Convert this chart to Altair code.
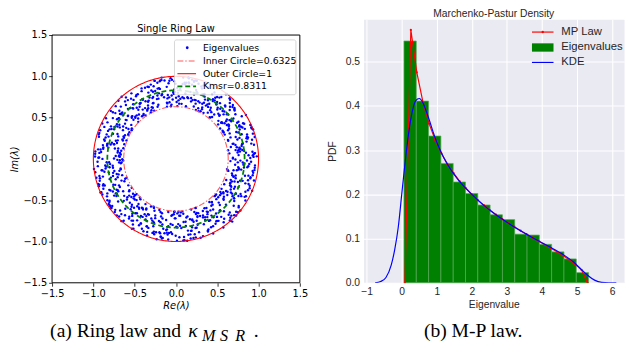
import altair as alt
import numpy as np
import pandas as pd

# ---------------- data: left panel (eigenvalues in the complex plane, polar form) ----------------
angle_deg = [
    0.3, 1.1, 1.8, 2.9, 3.5, 4.2, 5.3, 6.0, 6.6, 7.7, 8.4, 9.0, 10.1, 10.9, 11.5, 12.6, 13.2, 14.1, 14.9, 15.8,
    16.4, 17.5, 18.2, 18.9, 20.0, 20.6, 21.5, 22.4, 23.0, 24.1, 24.8, 25.4, 26.5, 27.3, 28.0, 28.9, 29.7, 30.6, 31.2, 32.1,
    33.0, 33.7, 34.6, 35.2, 36.3, 37.0, 37.8, 38.7, 39.3, 40.4, 41.1, 41.9, 42.6, 43.5, 44.4, 45.0, 46.1, 46.8, 47.5, 48.5,
    49.2, 50.1, 50.8, 51.7, 52.3, 53.4, 54.1, 54.9, 55.8, 56.4, 57.5, 58.2, 58.9, 59.9, 60.7, 61.4, 62.4, 63.0, 63.9, 64.8,
    65.5, 66.3, 67.2, 67.9, 68.8, 69.5, 70.4, 71.2, 72.0, 72.8, 73.7, 74.3, 75.3, 76.1, 76.8, 77.8, 78.5, 79.3, 80.2, 80.9,
    81.8, 82.5, 83.5, 84.2, 84.9, 85.9, 86.6, 87.5, 88.3, 89.0, 89.9, 90.8, 91.4, 92.4, 93.2, 93.9, 94.8, 95.6, 96.3, 97.3,
    98.0, 98.8, 99.7, 100.4, 101.3, 102.1, 102.9, 103.7, 104.6, 105.3, 106.2, 107.0, 107.7, 108.7, 109.4, 110.2, 111.1, 111.9, 112.6, 113.5,
    114.3, 115.1, 116.0, 116.7, 117.6, 118.4, 119.2, 120.1, 120.8, 121.7, 122.5, 123.2, 124.2, 124.9, 125.7, 126.6, 127.4, 128.1, 129.1, 129.8,
    130.6, 131.5, 132.2, 133.1, 133.9, 134.7, 135.5, 136.4, 137.1, 138.0, 138.8, 139.6, 140.5, 141.2, 142.1, 142.9, 143.6, 144.6, 145.3, 146.1,
    147.0, 147.8, 148.5, 149.5, 150.2, 151.0, 151.9, 152.7, 153.4, 154.4, 155.1, 155.9, 156.8, 157.6, 158.3, 159.3, 160.0, 160.8, 161.7, 162.5,
    163.2, 164.2, 164.9, 165.7, 166.6, 167.4, 168.1, 169.1, 169.8, 170.6, 171.5, 172.3, 173.0, 174.0, 174.7, 175.5, 176.4, 177.2, 177.9, 178.9,
    179.6, 180.4, 181.3, 182.1, 182.8, 183.8, 184.5, 185.3, 186.2, 187.0, 187.7, 188.7, 189.4, 190.2, 191.1, 191.9, 192.6, 193.6, 194.3, 195.1,
    196.0, 196.8, 197.5, 198.5, 199.2, 200.0, 200.9, 201.7, 202.4, 203.4, 204.1, 204.9, 205.8, 206.6, 207.3, 208.3, 209.0, 209.8, 210.7, 211.5,
    212.2, 213.2, 213.9, 214.7, 215.6, 216.4, 217.1, 218.1, 218.8, 219.6, 220.5, 221.3, 222.0, 223.0, 223.7, 224.5, 225.4, 226.2, 226.9, 227.9,
    228.6, 229.4, 230.3, 231.1, 231.8, 232.8, 233.5, 234.3, 235.2, 236.0, 236.7, 237.7, 238.4, 239.2, 240.1, 240.9, 241.6, 242.6, 243.3, 244.1,
    245.0, 245.8, 246.5, 247.5, 248.2, 249.0, 249.9, 250.7, 251.4, 252.4, 253.1, 253.9, 254.8, 255.6, 256.3, 257.3, 258.0, 258.8, 259.7, 260.5,
    261.2, 262.2, 262.9, 263.7, 264.6, 265.4, 266.1, 267.1, 267.8, 268.6, 269.5, 270.3, 271.0, 272.0, 272.7, 273.5, 274.4, 275.2, 275.9, 276.9,
    277.6, 278.4, 279.3, 280.1, 280.8, 281.8, 282.5, 283.3, 284.2, 285.0, 285.7, 286.7, 287.4, 288.2, 289.1, 289.9, 290.6, 291.6, 292.3, 293.1,
    294.0, 294.8, 295.5, 296.5, 297.2, 298.0, 298.9, 299.7, 300.4, 301.4, 302.1, 302.9, 303.8, 304.6, 305.3, 306.3, 307.0, 307.8, 308.7, 309.5,
    310.2, 311.2, 311.9, 312.7, 313.6, 314.4, 315.1, 316.1, 316.8, 317.6, 318.5, 319.3, 320.0, 321.0, 321.7, 322.5, 323.4, 324.2, 324.9, 325.9,
    326.6, 327.4, 328.3, 329.1, 329.8, 330.8, 331.5, 332.3, 333.2, 334.0, 334.7, 335.7, 336.4, 337.2, 338.1, 338.9, 339.6, 340.6, 341.3, 342.1,
    343.0, 343.8, 344.5, 345.5, 346.2, 347.0, 347.9, 348.7, 349.4, 350.4, 351.1, 351.9, 352.8, 353.6, 354.3, 355.3, 356.0, 356.8, 357.7, 358.5,
    0.7, 1.5, 2.5, 3.3, 4.0, 5.0, 5.9, 6.8, 7.6, 8.6, 9.5, 10.3, 11.2, 12.2, 13.0, 13.8, 14.7, 15.6, 16.5, 17.3,
    18.3, 19.1, 20.1, 20.9, 21.8, 22.7, 23.6, 24.5, 25.3, 26.3, 27.1, 28.0, 28.9, 29.9, 30.7, 31.5, 32.5, 33.3, 34.3, 35.1,
    36.0, 36.9, 37.8, 38.7, 39.5, 40.5, 41.3, 42.3, 43.1, 44.0, 44.9, 45.8, 46.7, 47.5, 48.5, 49.3, 50.3, 51.1, 52.0, 52.9,
    53.8, 54.7, 55.5, 56.5, 57.3, 58.3, 59.1, 60.0, 60.9, 61.8, 62.7, 63.5, 64.5, 65.3, 66.3, 67.1, 68.0, 68.9, 69.8, 70.7,
    71.5, 72.5, 73.3, 74.3, 75.1, 76.0, 76.9, 77.8, 78.7, 79.5, 80.5, 81.3, 82.3, 83.1, 84.0, 84.9, 85.8, 86.7, 87.5, 88.5,
    89.3, 90.3, 91.1, 92.0, 92.9, 93.8, 94.7, 95.5, 96.5, 97.3, 98.3, 99.1, 100.0, 100.9, 101.8, 102.7, 103.5, 104.5, 105.3, 106.3,
    107.1, 108.0, 108.9, 109.8, 110.7, 111.5, 112.5, 113.3, 114.3, 115.1, 116.0, 116.9, 117.8, 118.7, 119.5, 120.5, 121.3, 122.3, 123.1, 124.0,
    124.9, 125.8, 126.7, 127.5, 128.5, 129.3, 130.3, 131.1, 132.0, 132.9, 133.8, 134.7, 135.5, 136.5, 137.3, 138.3, 139.1, 140.0, 140.9, 141.8,
    142.7, 143.5, 144.5, 145.3, 146.3, 147.1, 148.0, 148.9, 149.8, 150.7, 151.5, 152.5, 153.3, 154.3, 155.1, 156.0, 156.9, 157.8, 158.7, 159.5,
    160.5, 161.3, 162.3, 163.1, 164.0, 164.9, 165.8, 166.7, 167.5, 168.5, 169.3, 170.3, 171.1, 172.0, 172.9, 173.8, 174.7, 175.5, 176.5, 177.3,
    178.3, 179.1, 180.0, 180.9, 181.8, 182.7, 183.5, 184.5, 185.3, 186.3, 187.1, 188.0, 188.9, 189.8, 190.7, 191.5, 192.5, 193.3, 194.3, 195.1,
    196.0, 196.9, 197.8, 198.7, 199.5, 200.5, 201.3, 202.3, 203.1, 204.0, 204.9, 205.8, 206.7, 207.5, 208.5, 209.3, 210.3, 211.1, 212.0, 212.9,
    213.8, 214.7, 215.5, 216.5, 217.3, 218.3, 219.1, 220.0, 220.9, 221.8, 222.7, 223.5, 224.5, 225.3, 226.3, 227.1, 228.0, 228.9, 229.8, 230.7,
    231.5, 232.5, 233.3, 234.3, 235.1, 236.0, 236.9, 237.8, 238.7, 239.5, 240.5, 241.3, 242.3, 243.1, 244.0, 244.9, 245.8, 246.7, 247.5, 248.5,
    249.3, 250.3, 251.1, 252.0, 252.9, 253.8, 254.7, 255.5, 256.5, 257.3, 258.3, 259.1, 260.0, 260.9, 261.8, 262.7, 263.5, 264.5, 265.3, 266.3,
    267.1, 268.0, 268.9, 269.8, 270.7, 271.5, 272.5, 273.3, 274.3, 275.1, 276.0, 276.9, 277.8, 278.7, 279.5, 280.5, 281.3, 282.3, 283.1, 284.0,
    284.9, 285.8, 286.7, 287.5, 288.5, 289.3, 290.3, 291.1, 292.0, 292.9, 293.8, 294.7, 295.5, 296.5, 297.3, 298.3, 299.1, 300.0, 300.9, 301.8,
    302.7, 303.5, 304.5, 305.3, 306.3, 307.1, 308.0, 308.9, 309.8, 310.7, 311.5, 312.5, 313.3, 314.3, 315.1, 316.0, 316.9, 317.8, 318.7, 319.5,
    320.5, 321.3, 322.3, 323.1, 324.0, 324.9, 325.8, 326.7, 327.5, 328.5, 329.3, 330.3, 331.1, 332.0, 332.9, 333.8, 334.7, 335.5, 336.5, 337.3,
    338.3, 339.1, 340.0, 340.9, 341.8, 342.7, 343.5, 344.5, 345.3, 346.3, 347.1, 348.0, 348.9, 349.8, 350.7, 351.5, 352.5, 353.3, 354.3, 355.1,
    356.0, 356.9, 357.8, 358.7, 359.5,
]
radius = [
    .69, .69, .98, .88, .76, .96, .93, .75, .78, .81, .73, .79, .78, .75, .93, .82, .74, .95, .71, .90, .89, .78, .98, .91, .67,
    .85, .71, .99, .82, .80, .85, .72, .66, .93, .87, .66, .74, .86, .66, 1.00, .95, .74, .65, .81, .73, .76, .71, .70, .66, .93,
    .94, .69, .93, .95, .82, .75, .94, .75, .88, .81, .67, .78, .80, .86, .99, .82, .85, .72, .75, .90, .83, .85, .78, .93, .74,
    .81, .68, .70, .80, .64, .95, .67, .74, .64, .98, .95, .71, .67, .84, .85, .87, .81, .72, .98, .96, .83, .98, .65, .93, .99,
    .80, .74, .93, .67, .91, .88, .85, .76, .80, .86, .74, .81, .84, .81, .72, .77, .95, .92, .75, .88, .74, .68, .64, .97, .97,
    .80, .87, .95, .88, .98, .76, .86, .76, .95, .67, .80, .79, .73, .87, .94, .68, .78, .77, .66, .73, .64, .82, .69, .68, .91,
    .90, .80, .96, .64, .88, .66, .75, .84, .96, .70, .81, .93, .83, .67, .71, .99, .74, .74, .73, .78, .97, .90, .83, .87, .77,
    .92, .98, .85, .65, .86, .64, .68, .75, .83, .65, .81, .94, .65, .88, .83, .68, .95, .69, .89, .82, .98, .69, .68, .86, .98,
    .76, .65, .90, .89, .77, .85, .85, .85, .71, .83, .67, .71, .95, .68, .91, .93, .98, .73, .68, .93, .75, .65, .68, .95, .81,
    .66, .80, .86, .77, 1.00, .86, .91, .99, .88, .76, .70, .95, .91, .74, .72, .96, .68, .74, .98, .93, .94, .64, .71, .82, .68,
    .99, .76, .88, .76, .86, .80, .66, .84, .87, .75, .95, .64, .68, .98, .98, .87, .99, .72, .81, .77, .71, .66, .64, .70, .99,
    .86, .98, .77, .64, .92, .65, .78, .71, .90, .92, .74, .75, .92, .91, .72, .95, .88, .81, .70, .81, .92, .89, .78, .82, .75,
    .64, .65, .89, .68, .90, .80, .73, .76, .86, .94, .92, .95, .92, .68, .79, .91, .92, .96, .86, .97, .91, .87, .90, .92, .90,
    .69, .89, .80, .67, .64, .72, .82, .83, .79, .64, .81, .84, .99, .95, .77, .67, .82, .93, .72, .93, .89, .98, .85, .98, .76,
    .79, .64, 1.00, .84, .68, .71, .74, .64, .71, .86, .95, .78, .76, .79, .93, .85, .93, .77, .74, .92, .81, .90, .75, 1.01, .86,
    .82, .96, .66, .71, .68, .82, .99, 1.02, .97, .77, .74, .92, .65, 1.00, .82, .65, .99, .75, .90, .74, .69, .67, .87, .70, .85,
    .82, .72, .80, .98, .84, .76, .89, .66, .75, .73, .79, .83, .72, .66, .73, .76, .80, .89, .82, .76,
    .73, .71, .75, .70, .93, .90, .64, .63, .75, .77, .94, .96, .83, .96, .88, .96, .83, .75, .66, .78,
    .90, .94, .93, .94, .95, .85, .65, .83, .76, .77, .64, .96, .81, .68, .83, .88, .72, .99, .91, .90,
    .81, .67, .77, 1.00, .99, .99, .91, .99, .89, .88, .86, .92, .72, .66, .88, .75, .76, .76, .81, .85,
    .80, .90, .78, .71, .92, .83, .82, .88, .79, .91, .74, .81, .87, .97, .98, .71, .65, .65, 1.00, .71,
    .93, .91, .68, .85, .88, .74, .65, .76, .90, .97, .65, .76, .74, .83, .86, .85, .84, .75, .91, .93,
    .75, .75, .95, .74, .98, .76, .97, .92, .75, .76, .94, 1.00, .93, .91, .75, .99, .73, .67, .71, .64,
    .69, .91, .94, .79, .96, .98, .66, .64, .69, .78, .96, .69, 1.00, .76, .96, .79, .88, .82, .98, .80,
    .92, .69, .86, .88, .93, .94, .73, .81, .64, .69, .95, .92, .79, .70, .83, .91, .72, .80, .80, .72,
    .77, .67, .91, .78, .66, .92, .80, 1.00, .71, .89, .84, .70, .64, .92, .70, .78, .86, .86, .86, .76,
    .68, .95, .85, .75, .64, .91, .71, .80, .98, .78, .73, .84, .64, .99, .86, .88, .77, .68, .75, .64,
    .89, .98, .74, .89, .97, .74, .80, .77, .81, .65, .90, .75, .89, .89, .92, .71, .98, .67, .69, .69,
    .98, .94, .89, .71, .64, .84, .69, .67, .95, .85, .81, .77, .90, .68, .68, .83, .78, .99, .95, .79,
    .82, .84, .99, .77, .99, .92, .66, .95, .80, 1.00, .89, .99, .93, .81, .95, .80, .83, .97, .85, .96,
    .98, .69, .77, .96, .98, .75, .67, .96, .98, .68, .92, .77, .70, .94, .69, .79, .82, 1.00, .98, .74,
    .85, .87, .82, .81, .72, .66, .73, 1.00, .99, .71, .77, .89, .65, .75, .94, .83, .96, .89, .78, .95,
    .99, .81, .82, .65, .94, .67, .78, .72, 1.00, .74, .81, .96, .98, .75, .65, .86, .82, .98, .79, .68,
    .91, .64, .72, .93, .99, .66, .95, .69, .69, .65, .99, .64, 1.00, .77, .88, .98, .71, .89, .75, .94,
    .77, .87, .87, .93, .79, .99, .75, .70, .64, .75, .96, .94, .82, 1.01, .71, .80, .85, .69, .75, .70,
    .84, .90, .91, .86, .76, .71, .89, .93, .68, .82, 1.00, .86, .93, .96, .69, .98, .65, .69, .97, .76,
    .69, 1.00, .96, .95, .71, .76, .85, .66, .74, .78, .88, .91, .95, .96, .79, .74, .93, .72, .95, 1.00,
    .96, .71, .95, .93, .85, .73, .91, .98, .93, .86, .65, .95, .71, .95, .80, .77, .76, .87, .72, .82,
    .89, .81, .91, .86, .72,
]
circle_names = ["Inner Circle=0.6325", "Outer Circle=1", "Kmsr=0.8311"]
circle_radii = [0.6325, 1.0, 0.8311]
ring_ticks = [-1.5, -1.0, -0.5, 0.0, 0.5, 1.0, 1.5]

# ---------------- data: right panel (Marchenko-Pastur) ----------------
bin_left = [0.064, 0.415, 0.766, 1.117, 1.468, 1.819, 2.170, 2.521, 2.872, 3.223, 3.574, 3.925, 4.276, 4.627, 4.978]
bin_right = [0.415, 0.766, 1.117, 1.468, 1.819, 2.170, 2.521, 2.872, 3.223, 3.574, 3.925, 4.276, 4.627, 4.978, 5.329]
bin_density = [0.547, 0.411, 0.332, 0.270, 0.228, 0.202, 0.176, 0.154, 0.143, 0.110, 0.108, 0.087, 0.070, 0.054, 0.023]

mp_x = [0.09, 0.26, 0.43, 0.61, 0.78, 0.96, 1.13, 1.30, 1.48, 1.65, 1.82, 2.00, 2.17, 2.35, 2.52, 2.69,
        2.87, 3.04, 3.21, 3.39, 3.56, 3.74, 3.91, 4.08, 4.26, 4.43, 4.61, 4.78, 4.95, 5.13, 5.30]
mp_pdf = [0.000, 0.572, 0.476, 0.407, 0.360, 0.322, 0.293, 0.269, 0.248, 0.230, 0.215, 0.200, 0.187, 0.175, 0.164, 0.154,
          0.144, 0.135, 0.127, 0.118, 0.110, 0.102, 0.094, 0.086, 0.078, 0.070, 0.061, 0.052, 0.042, 0.029, 0.000]

kde_x = [-0.76, -0.6, -0.45, -0.3, -0.2, -0.1, 0.0, 0.1, 0.2, 0.3, 0.4, 0.5, 0.6, 0.7, 0.8, 0.9, 1.0, 1.2, 1.4,
         1.6, 1.8, 2.0, 2.3, 2.6, 3.0, 3.4, 3.8, 4.2, 4.6, 4.9, 5.1, 5.3, 5.5, 5.7, 5.9, 6.12]
kde_pdf = [0.000, 0.003, 0.012, 0.040, 0.075, 0.125, 0.200, 0.275, 0.340, 0.387, 0.412, 0.417, 0.408, 0.388, 0.365,
           0.340, 0.318, 0.283, 0.256, 0.234, 0.216, 0.200, 0.178, 0.159, 0.137, 0.117, 0.099, 0.082, 0.064, 0.047,
           0.032, 0.017, 0.006, 0.001, 0.000, 0.000]
mp_xticks = [-1, 0, 1, 2, 3, 4, 5, 6]
mp_yticks = [0.0, 0.1, 0.2, 0.3, 0.4, 0.5]

# ---------------- tables ----------------
n = min(len(angle_deg), len(radius))
th = np.deg2rad(np.array(angle_deg[:n]))
rr = np.array(radius[:n])
pts = pd.DataFrame({"x": rr * np.cos(th), "y": rr * np.sin(th)})

tt = np.linspace(0, 2 * np.pi, 361)
circ = pd.concat([
    pd.DataFrame({"x": r * np.cos(tt), "y": r * np.sin(tt), "i": np.arange(len(tt)), "name": nm})
    for nm, r in zip(circle_names, circle_radii)
])

hist = pd.DataFrame({"l": bin_left, "r": bin_right, "d": bin_density})
mp = pd.DataFrame({"x": mp_x, "p": mp_pdf})
kde = pd.DataFrame({"x": kde_x, "p": kde_pdf})
one = pd.DataFrame({"a": [0]})

# ---------------- left panel ----------------
# plot area 253x253; 16 extra px above it so that the panel sits lower than the right one
LW, LH = 253, 269
TOP = 16
lx = alt.Scale(domain=[-1.5, 1.5], nice=False, zero=False)
ly = alt.Scale(domain=[-1.5, 1.69], nice=False, zero=False)
laxis = dict(values=ring_ticks, format=".1f", grid=False, domain=False, tickColor="black", tickSize=3.5,
             tickWidth=0.8, labelColor="black", labelFont="DejaVu Sans", labelFontSize=10,
             labelFlush=False, labelOverlap=False, titleFont="DejaVu Sans", titleFontSize=10,
             titleFontStyle="italic", titleFontWeight="normal", titleColor="black")
ax_lx = alt.Axis(title="Re(λ)", labelPadding=2, titlePadding=3, **laxis)
ax_ly = alt.Axis(title="Im(λ)", labelPadding=2, titlePadding=4, titleY=TOP + 126.5, **laxis)

base_pts = alt.Chart(pts).mark_circle(size=6, color="blue", opacity=1).encode(
    x=alt.X("x:Q", scale=lx, axis=ax_lx),
    y=alt.Y("y:Q", scale=ly, axis=ax_ly),
)

def circle_layer(name, **style):
    return alt.Chart(circ).transform_filter(alt.datum.name == name).mark_line(**style).encode(
        x=alt.X("x:Q", scale=lx, axis=ax_lx), y=alt.Y("y:Q", scale=ly, axis=ax_ly), order="i:Q")

inner = circle_layer(circle_names[0], color="#ff5a5a", strokeWidth=1.1, strokeDash=[6, 2, 1.5, 2])
outer = circle_layer(circle_names[1], color="red", strokeWidth=1.1)
kmsr = circle_layer(circle_names[2], color="green", strokeWidth=1.8, strokeDash=[5, 3])

frame = alt.Chart(one).mark_rect(fill="transparent", stroke="black", strokeWidth=1).encode(
    x=alt.datum(-1.5, scale=lx), x2=alt.datum(1.5), y=alt.datum(-1.5, scale=ly), y2=alt.datum(1.5))
left_title = alt.Chart(pd.DataFrame({"t": ["Single Ring Law"]})).mark_text(
    align="center", baseline="bottom", dy=-1, font="DejaVu Sans", fontSize=10, color="black").encode(
    x=alt.datum(0, scale=lx), y=alt.datum(1.5, scale=ly), text="t:N")

# legend (matplotlib style box)
leg_frame = alt.Chart(one).mark_rect(
    fill="white", fillOpacity=0.85, stroke="#cccccc", strokeWidth=0.8, cornerRadius=2).encode(
    x=alt.value(125), x2=alt.value(249), y=alt.value(TOP + 5), y2=alt.value(TOP + 61))
leg_dot = alt.Chart(one).mark_circle(size=8, color="blue", opacity=1).encode(
    x=alt.value(138), y=alt.value(TOP + 13))
leg_inner = alt.Chart(one).mark_rule(color="#ff5a5a", strokeWidth=1.1, strokeDash=[6, 2, 1.5, 2]).encode(
    x=alt.value(128), x2=alt.value(147), y=alt.value(TOP + 26.5))
leg_outer = alt.Chart(one).mark_rule(color="red", strokeWidth=1.1).encode(
    x=alt.value(128), x2=alt.value(147), y=alt.value(TOP + 39.5))
leg_kmsr = alt.Chart(one).mark_rule(color="green", strokeWidth=1.8, strokeDash=[5, 3]).encode(
    x=alt.value(128), x2=alt.value(147), y=alt.value(TOP + 52.5))
leg_text = alt.Chart(pd.DataFrame({"t": ["Eigenvalues"] + circle_names,
                                   "py": [TOP + 13, TOP + 26.5, TOP + 39.5, TOP + 52.5]})).mark_text(
    align="left", baseline="middle", font="DejaVu Sans", fontSize=9.5, color="black").encode(
    x=alt.value(154), y=alt.Y("py:Q", scale=None), text="t:N")

# caption (a)
CAP_Y = 324
cap_a1 = alt.Chart(pd.DataFrame({"t": ["(a) Ring law and"]})).mark_text(
    align="left", baseline="alphabetic", font="Liberation Serif", fontSize=20, color="black").encode(
    x=alt.value(-2), y=alt.value(CAP_Y), text="t:N")
cap_a2 = alt.Chart(pd.DataFrame({"t": ["κ"]})).mark_text(
    align="left", baseline="alphabetic", font="Liberation Serif", fontStyle="italic", fontSize=20, color="black").encode(
    x=alt.value(139), y=alt.value(CAP_Y), text="t:N")
cap_a3 = alt.Chart(pd.DataFrame({"t": ["M", "S", "R"], "px": [153, 171.5, 187]})).mark_text(
    align="left", baseline="alphabetic", font="Liberation Serif", fontStyle="italic", fontSize=16.5, color="black").encode(
    x=alt.X("px:Q", scale=None), y=alt.value(CAP_Y + 4), text="t:N")
cap_a4 = alt.Chart(pd.DataFrame({"t": ["."]})).mark_text(
    align="left", baseline="alphabetic", font="Liberation Serif", fontSize=20, color="black").encode(
    x=alt.value(206), y=alt.value(CAP_Y), text="t:N")

left = alt.layer(
    base_pts, inner, outer, kmsr, frame, left_title, leg_frame, leg_dot, leg_inner, leg_outer, leg_kmsr,
    leg_text, cap_a1, cap_a2, cap_a3, cap_a4,
).properties(
    width=LW, height=LH,
    view=alt.ViewBackground(fill="white", stroke="transparent"),
)

# ---------------- right panel ----------------
RW, RH = 266, 269
rx = alt.Scale(domain=[-1.09, 6.34], nice=False, zero=False)
ry = alt.Scale(domain=[0, 0.596], nice=False, zero=False)
raxis = dict(grid=True, gridColor="white", gridWidth=1.1, domain=False, ticks=False, labelColor="#262626",
             labelFont="Liberation Sans", labelFontSize=10.5, labelFlush=False, labelOverlap=False,
             labelSeparation=0, titleFont="Liberation Sans", titleFontSize=10.5, titleFontWeight="normal",
             titleColor="#262626")
ax_rx = alt.Axis(title="Eigenvalue", values=mp_xticks, format="d", labelPadding=4, titlePadding=3, **raxis)
ax_ry = alt.Axis(title="PDF", values=mp_yticks, format=".1f", labelPadding=4, titlePadding=8, **raxis)

bars = alt.Chart(hist).mark_rect(color="#008000", stroke="#5aa95a", strokeWidth=0.7).encode(
    x=alt.X("l:Q", scale=rx, axis=ax_rx),
    x2="r:Q",
    y=alt.Y("d:Q", scale=ry, axis=ax_ry),
    y2=alt.datum(0),
)
mp_line = alt.Chart(mp).mark_line(color="red", strokeWidth=1.2, clip=True,
                                  point=alt.OverlayMarkDef(filled=True, size=5, color="red")).encode(
    x=alt.X("x:Q", scale=rx, axis=ax_rx), y=alt.Y("p:Q", scale=ry, axis=ax_ry))
kde_line = alt.Chart(kde).mark_line(color="blue", strokeWidth=1.2, clip=True, interpolate="monotone").encode(
    x=alt.X("x:Q", scale=rx, axis=ax_rx), y=alt.Y("p:Q", scale=ry, axis=ax_ry))

rl_mp = alt.Chart(one).mark_rule(color="red", strokeWidth=1.2).encode(
    x=alt.value(172), x2=alt.value(194), y=alt.value(13))
rl_mp_dot = alt.Chart(one).mark_circle(color="red", size=6, opacity=1).encode(
    x=alt.value(183), y=alt.value(13))
rl_eig = alt.Chart(one).mark_rect(color="#008000").encode(
    x=alt.value(172), x2=alt.value(194), y=alt.value(24.5), y2=alt.value(33))
rl_kde = alt.Chart(one).mark_rule(color="blue", strokeWidth=1.2).encode(
    x=alt.value(172), x2=alt.value(194), y=alt.value(44))
rl_text = alt.Chart(pd.DataFrame({"t": ["MP Law", "Eigenvalues", "KDE"], "py": [13, 28.7, 44]})).mark_text(
    align="left", baseline="middle", font="Liberation Sans", fontSize=11.5, color="#262626").encode(
    x=alt.value(202), y=alt.Y("py:Q", scale=None), text="t:N")

cap_b = alt.Chart(pd.DataFrame({"t": ["(b) M-P law."]})).mark_text(
    align="center", baseline="alphabetic", font="Liberation Serif", fontSize=20, color="black").encode(
    x=alt.value(112), y=alt.value(CAP_Y), text="t:N")

right = alt.layer(bars, mp_line, kde_line, rl_mp, rl_mp_dot, rl_eig, rl_kde, rl_text, cap_b).properties(
    width=RW, height=RH,
    title=alt.TitleParams("Marchenko-Pastur Density", font="Liberation Sans", fontSize=10.5,
                          fontWeight="normal", color="#262626", offset=0),
    view=alt.ViewBackground(fill="#EAEAF2", stroke="transparent"),
)

chart = alt.hconcat(left, right, spacing=18).properties(
    padding={"left": 0, "top": -3, "right": 0, "bottom": 0},
    background="white",
)

chart.save("out.html", embed_options={"renderer": "svg", "actions": False})
